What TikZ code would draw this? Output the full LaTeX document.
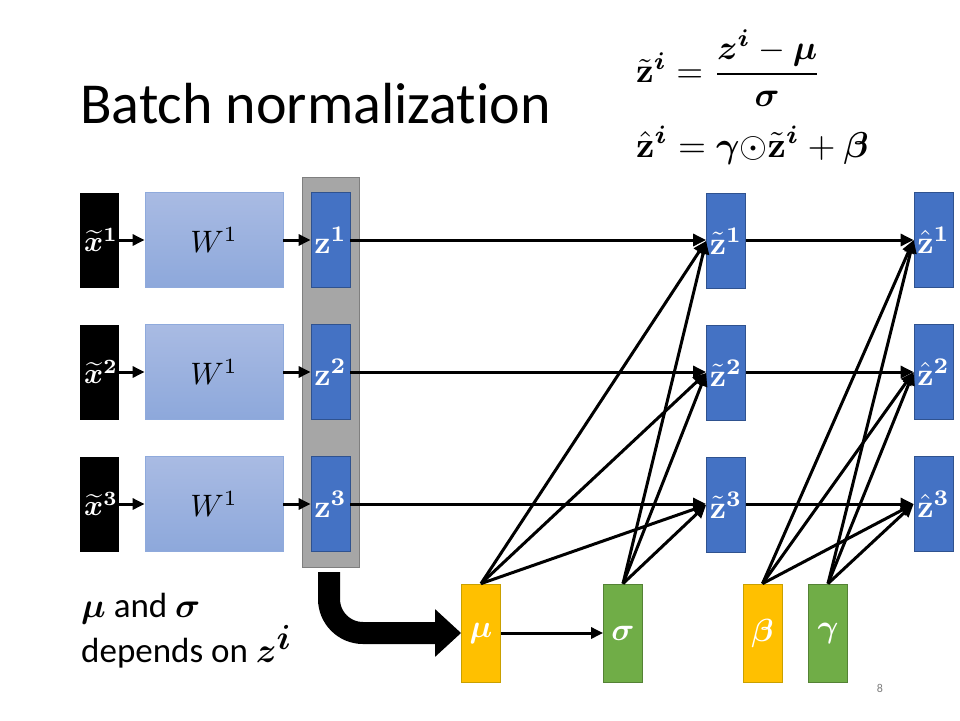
\documentclass[tikz,border=0pt]{standalone}
\usepackage{amsmath,amssymb,bm}
\usepackage[no-math]{fontspec}
\setmainfont{Carlito}[Ligatures=NoCommon]
\usetikzlibrary{arrows.meta}
\definecolor{blueF}{HTML}{4472C4}
\definecolor{blueD}{HTML}{2F528F}
\definecolor{wTop}{HTML}{A9BBE3}
\definecolor{wBot}{HTML}{8DA8DB}
\definecolor{wD}{HTML}{8FAADC}
\definecolor{grayF}{HTML}{A6A6A6}
\definecolor{grayD}{HTML}{7F7F7F}
\definecolor{yelF}{HTML}{FFC000}
\definecolor{yelD}{HTML}{C9A000}
\definecolor{grnF}{HTML}{70AD47}
\definecolor{grnD}{HTML}{548235}
\newcommand{\scm}[2][2.8]{\scalebox{#1}{$#2$}}
\begin{document}
\begin{tikzpicture}[x=1pt,y=-1pt,
  box/.style={rectangle,inner sep=0pt,minimum width=39pt,minimum height=95pt,line width=0.8pt},
  xbox/.style={box,fill=black,text=white},
  wbox/.style={box,minimum width=138pt,draw=wD,top color=wTop,bottom color=wBot},
  zbox/.style={box,fill=blueF,draw=blueD,text=white},
  ybox/.style={box,minimum height=98pt,fill=yelF,draw=yelD,text=white},
  gbox/.style={box,minimum height=98pt,fill=grnF,draw=grnD,text=white},
  arr/.style={line width=3pt,-{Triangle[length=13pt,width=12pt]}},
  sarr/.style={line width=3pt,-{Triangle[length=12pt,width=11pt]}}
]
\useasboundingbox (0,0) rectangle (960,720);
\fill[white] (0,0) rectangle (960,720);

% title
\node[anchor=base west,inner sep=0pt,font=\fontsize{58}{64}\selectfont] (title) at (80,123) {Batch normalization};

% formulas
\node[anchor=west,inner sep=0pt] (f1) at (636,68)
  {\scm[3.45]{\tilde{\mathbf{z}}^{\bm{i}}=\dfrac{\bm{z}^{\bm{i}}-\bm{\mu}}{\bm{\sigma}}}};
\node[anchor=base west,inner sep=0pt] (f2) at (636,157)
  {\scm[3.6]{\hat{\mathbf{z}}^{\bm{i}}=\bm{\gamma}{\odot}\tilde{\mathbf{z}}^{\bm{i}}+\bm{\beta}}};

% grey group
\node[rectangle,inner sep=0pt,minimum width=57pt,minimum height=390pt,fill=grayF,draw=grayD,line width=0.8pt] (grp) at (330.5,372) {};

% rows
\foreach \r/\y in {1/240,2/372,3/504}{
  \node[xbox] (x\r) at (99.5,\y) {\hspace*{3pt}\scm[2.9]{\widetilde{\bm{x}}^{\mathbf{\r}}}};
  \node[wbox] (w\r) at (214,\y) {\scm[3.1]{W^{1}}};
  \node[zbox] (z\r) at (330.5,\y) {\scm[3.2]{\mathbf{z}^{\mathbf{\r}}}};
  \node[zbox] (zt\r) at (726,\y+1) {\scm[3.2]{\tilde{\mathbf{z}}^{\mathbf{\r}}}};
  \node[zbox] (zh\r) at (933.5,\y) {\scm[3.2]{\hat{\mathbf{z}}^{\mathbf{\r}}}};
}

% bottom nodes
\node[ybox] (mu) at (481,633) {\scm[3.2]{\bm{\mu}}};
\node[gbox] (sg) at (623,633) {\scm[3.2]{\bm{\sigma}}};
\node[ybox] (be) at (762.5,633) {\scm[3.2]{\bm{\beta}}};
\node[gbox] (ga) at (828,633) {\scm[3.2]{\bm{\gamma}}};

% horizontal arrows
\foreach \r in {1,2,3}{
  \draw[sarr] (x\r.east) -- (w\r.west);
  \draw[sarr] (w\r.east) -- (z\r.west);
  \draw[arr] (z\r.east) -- (z\r.east -| zt\r.west);
  \draw[arr] (zt\r.east |- zh\r.west) -- (zh\r.west);
}

% diagonal arrows
\foreach \r in {1,2,3}{
  \draw[arr] (mu.north) -- (zt\r.west);
  \draw[arr] (sg.north) -- (zt\r.west);
  \draw[arr] (be.north) -- (zh\r.west);
  \draw[arr] (ga.north) -- (zh\r.west);
}

\draw[sarr] (mu.east) -- (sg.west);

% thick arrow
\coordinate (ts) at (329,572);
\draw[line width=22pt,rounded corners=34pt,-{Triangle[length=26pt,width=46pt]}] (ts) |- (mu.west);

% bottom text
\node[anchor=base west,inner sep=0pt,align=left,font=\fontsize{35}{35}\selectfont] (note) at (81,662)
  {\scm[1.4]{\bm{\mu}} and \scm[1.4]{\bm{\sigma}}\\depends on \scm[1.4]{\bm{z}^{\bm{i}}}};

% page number
\node[inner sep=0pt,text=grayD,font=\fontsize{12}{14}\selectfont] (pg) at (880,688) {8};
\end{tikzpicture}
\end{document}
